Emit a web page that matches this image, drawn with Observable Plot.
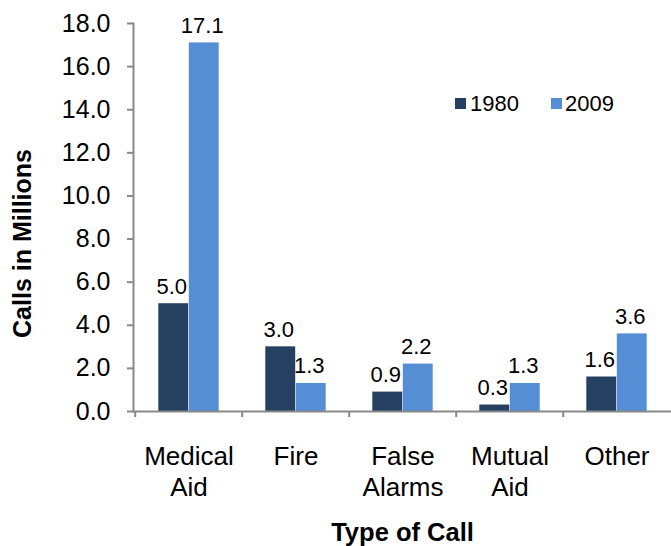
<!DOCTYPE html>
<html>
<head>
<meta charset="utf-8">
<script src="https://cdn.jsdelivr.net/npm/d3@7"></script>
<script src="https://cdn.jsdelivr.net/npm/@observablehq/plot@0.6"></script>
<style>
  body { margin: 0; background: #fff; font-family: "Liberation Sans", Arial, sans-serif; }
  #wrap { position: relative; width: 671px; height: 546px; }
  .leg { position: absolute; font-size: 22px; color: #000; line-height: 1; }
  .sw { position: absolute; width: 11px; height: 11px; }
</style>
</head>
<body>
<div id="wrap"></div>
<script>
const categories = ["Medical Aid", "Fire", "False Alarms", "Mutual Aid", "Other"];
const categoryLabels = ["Medical\nAid", "Fire", "False\nAlarms", "Mutual\nAid", "Other"];
const values1980 = [5.0, 3.0, 0.9, 0.3, 1.6];
const values2009 = [17.1, 1.3, 2.2, 1.3, 3.6];
const yTicks = [0, 2, 4, 6, 8, 10, 12, 14, 16, 18];
const seriesNames = ["1980", "2009"];
const colors = ["#254061", "#558ED5"];

const W = 671, H = 546;
const mL = 133, mR = 0, mT = 23, mB = 135;
const step = (W - mL - mR) / categories.length;
const half = step / 2;
const barW = 30.5;

const d80 = categories.map((c, i) => ({cat: c, v: values1980[i]}));
const d09 = categories.map((c, i) => ({cat: c, v: values2009[i]}));
const labelData = categories.map((c, i) => ({cat: c, label: categoryLabels[i]}));
const gray = "#898989";
const font = "'Liberation Sans', Arial, sans-serif";

const chart = Plot.plot({
  width: W, height: H,
  marginLeft: mL, marginRight: mR, marginTop: mT, marginBottom: mB,
  style: {fontFamily: font, background: "white", overflow: "visible"},
  x: {type: "band", domain: categories, padding: 0, label: null, axis: null},
  y: {domain: [0, 18], label: null, axis: null},
  marks: [
    Plot.barY(d80, {x: "cat", y: "v", fill: colors[0], insetLeft: half - barW, insetRight: half}),
    Plot.barY(d09, {x: "cat", y: "v", fill: colors[1], insetLeft: half, insetRight: half - barW}),
    Plot.text(d80, {x: "cat", y: "v", text: d => d3.format(".1f")(d.v), dx: -barW / 2 - 2, dy: -10, lineAnchor: "bottom", fontSize: 22, fill: "black"}),
    Plot.text(d09, {x: "cat", y: "v", text: d => d3.format(".1f")(d.v), dx: barW / 2 - 2, dy: -10, lineAnchor: "bottom", fontSize: 22, fill: "black"}),
    Plot.axisY({ticks: yTicks, tickSize: 6, tickPadding: 17, tickFormat: d3.format(".1f"), fontSize: 25, stroke: gray, strokeWidth: 2, fill: "black", label: null}),
    Plot.axisX({ticks: categories, tickSize: 6, tickFormat: () => "", dx: -half, stroke: gray, strokeWidth: 2, label: null}),
    Plot.frame({anchor: "left", stroke: gray, strokeWidth: 2}),
    Plot.ruleY([0], {stroke: gray, strokeWidth: 2}),
    Plot.text(labelData, {x: "cat", y: () => 0, text: "label", dy: 31.5, lineAnchor: "top", lineHeight: 1.2, fontSize: 26, fill: "black"}),
    Plot.text(["Type of Call"], {frameAnchor: "bottom", dy: 129, lineAnchor: "bottom", fontSize: 25.5, fontWeight: "bold", fill: "black"}),
    Plot.text(["Calls in Millions"], {frameAnchor: "left", textAnchor: "middle", dx: -111, dy: 26, rotate: -90, fontSize: 25, fontWeight: "bold", fill: "black"})
  ]
});
const wrap = document.getElementById("wrap");
wrap.appendChild(chart);

// legend
const legendPos = [{sx: 455, tx: 470}, {sx: 551, tx: 565}];
seriesNames.forEach((name, i) => {
  const sw = document.createElement("div");
  sw.className = "sw";
  sw.style.left = legendPos[i].sx + "px";
  sw.style.top = "98px";
  sw.style.background = colors[i];
  wrap.appendChild(sw);
  const t = document.createElement("div");
  t.className = "leg";
  t.style.left = legendPos[i].tx + "px";
  t.style.top = "93px";
  t.textContent = name;
  wrap.appendChild(t);
});
</script>
</body>
</html>
